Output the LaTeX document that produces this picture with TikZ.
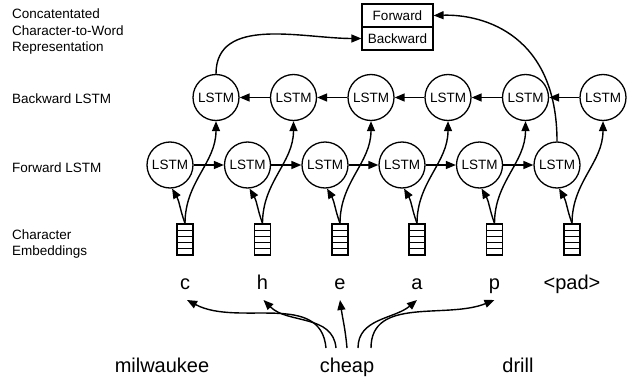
\documentclass[tikz,border=0pt]{standalone}
\usepackage{fontspec}
\setmainfont{Liberation Sans}
\usetikzlibrary{arrows.meta}

\tikzset{
  lstm/.style={circle, draw, line width=1.3pt, minimum size=46pt, inner sep=0pt,
    font=\fontsize{13.5}{16}\selectfont},
  embed/.style={rectangle, draw, line width=1.2pt, minimum width=16pt, minimum height=31pt,
    inner sep=0pt,
    path picture={\foreach \k in {1,...,4}
      \draw[line width=1.2pt] ([yshift=\k*6.2pt]path picture bounding box.south west)
        -- ([yshift=\k*6.2pt]path picture bounding box.south east);}},
  cell/.style={rectangle, draw, line width=1.2pt, minimum width=71pt, minimum height=23pt,
    inner sep=0pt, font=\fontsize{13.5}{16}\selectfont},
  rowlabel/.style={anchor=west, align=left, inner sep=0pt,
    font=\fontsize{13.5}{16.5}\selectfont},
  char/.style={anchor=base, inner sep=0pt, text depth=0pt, outer ysep=11pt,
    font=\fontsize{20}{24}\selectfont},
  word/.style={anchor=base, inner sep=0pt, text height=14pt, text depth=0pt, outer ysep=10pt,
    font=\fontsize{20}{24}\selectfont},
  conn/.style={line width=1.4pt, -{Triangle[length=10pt,width=8pt]}},
}

\begin{document}
\begin{tikzpicture}[x=1pt, y=1pt]
  \useasboundingbox (0,0) rectangle (629,376);

  % row labels
  \node[rowlabel] (lblcat) at (12,344) {Concatentated\\Character-to-Word\\Representation};
  \node[rowlabel] (lblbw) at (12,277) {Backward LSTM};
  \node[rowlabel] (lblfw) at (12,208) {Forward LSTM};
  \node[rowlabel] (lblemb) at (12,132) {Character\\Embeddings};

  % concatenated output cells
  \node[cell] (fwd) at (397.5,360.5) {Forward};
  \node[cell] (bwd) at (397.5,337.5) {Backward};

  % LSTM chains, embeddings and characters
  \foreach \i/\x/\c in {1/170/c, 2/247.5/h, 3/325/e, 4/402/a, 5/479.5/p, 6/557/{<pad>}} {
    \node[lstm] (fw\i) at (\x,211) {LSTM};
    \node[lstm] (bw\i) at (\x+46,278.5) {LSTM};
    \node[embed] (emb\i) at (\x+15,136.5) {};
    \node[char] (ch\i) at (\x+15,87) {\c};
  }

  % words
  \node[word] (w1) at (162,4) {milwaukee};
  \node[word] (w2) at (347,4) {cheap};
  \node[word] (w3) at (518,4) {drill};

  % recurrent connections
  \foreach \i [evaluate=\i as \j using int(\i+1)] in {1,...,5} {
    \draw[conn] (fw\i) -- (fw\j);
    \draw[conn] (bw\j) -- (bw\i);
  }

  % embeddings feed both directions
  \foreach \i in {1,...,6} {
    \draw[conn] (emb\i.north) to[out=110, in=-60] (fw\i.-85);
    \draw[conn] (emb\i.north) to[out=90, in=-90] (bw\i.south);
  }

  % final states to the concatenated representation
  \draw[conn] (fw6.north) .. controls (557,340) and (485,362) .. (fwd.east);
  \draw[conn] (bw1.north) to[out=90, in=180] (bwd.west);

  % word split into characters
  \draw[conn] ([xshift=-21pt]w2.north) to[out=95, in=-28] ([xshift=2pt]ch1.south);
  \draw[conn] ([xshift=-11pt]w2.north) to[out=95, in=-45] ([xshift=1pt]ch2.south);
  \draw[conn] (w2.north) to[out=95, in=-82] (ch3.south);
  \draw[conn] ([xshift=11pt]w2.north) to[out=90, in=-140] (ch4.south);
  \draw[conn] ([xshift=24pt]w2.north) to[out=90, in=-158] (ch5.south);
\end{tikzpicture}
\end{document}
